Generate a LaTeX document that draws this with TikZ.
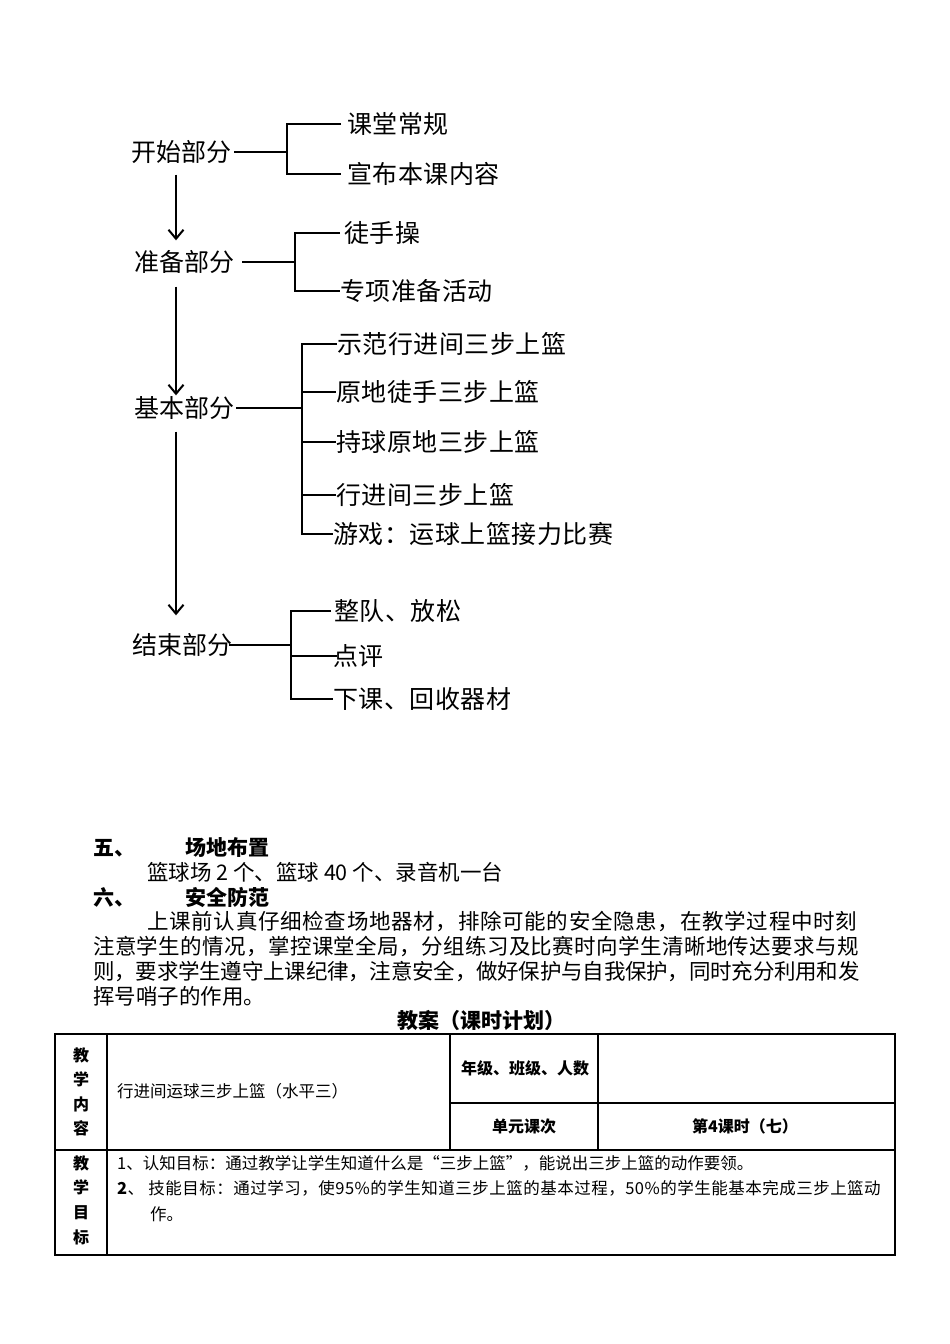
\documentclass[tikz,border=0pt]{standalone}
\usepackage{fontspec}
\setmainfont{Noto Sans CJK SC}
\usetikzlibrary{arrows.meta}
\tikzset{
  part/.style={inner sep=0pt, text height=22pt, text depth=3pt, font=\fontsize{25}{30}\selectfont},
  item/.style={anchor=west, inner sep=0pt, text height=22pt, text depth=3pt, font=\fontsize{25}{30}\selectfont\addfontfeature{LetterSpace=2}},
  branch/.style={line width=2.2pt},
  flow/.style={line width=2pt, -{Straight Barb[length=9pt,width=15pt,line width=2pt]}},
  head/.style={anchor=west, inner sep=0pt, text height=18.5pt, text depth=2.5pt, font=\fontsize{21}{25}\selectfont\bfseries},
  body/.style={anchor=west, inner sep=0pt, text height=19pt, text depth=2.5pt, font=\fontsize{21.5}{25}\selectfont},
  grid/.style={line width=1.2pt},
  cell/.style={inner sep=0pt, text height=14.5pt, text depth=2pt, font=\fontsize{16.5}{20}\selectfont},
  cellb/.style={inner sep=0pt, font=\fontsize{16}{20}\selectfont\bfseries},
}

\begin{document}
\begin{tikzpicture}[x=1pt,y=-1pt]
  \useasboundingbox (0,0) rectangle (950,1344);
  \fill[white] (0,0) rectangle (950,1344);

  % lesson parts
  \node[part] (kaishi) at (181,152) {开始部分};
  \node[part] (zhunbei) at (184,262) {准备部分};
  \node[part] (jiben) at (184,408) {基本部分};
  \node[part] (jieshu) at (182,645) {结束部分};

  \draw[flow, shorten <=10pt, shorten >=9pt] ([xshift=-5pt]kaishi.south) -- ([xshift=-5pt]kaishi.south |- zhunbei.north);
  \draw[flow, shorten <=12pt] ([xshift=-8pt]zhunbei.south) -- ([xshift=-8pt]zhunbei.south |- jiben.north);
  \draw[flow, shorten <=11pt, shorten >=17pt] ([xshift=-8pt]jiben.south) -- ([xshift=-8pt]jiben.south |- jieshu.north);

  % 开始部分
  \node[item] (k1) at (347,124) {课堂常规};
  \node[item] (k2) at (347,174) {宣布本课内容};
  \coordinate (kj) at (287,152);
  \draw[branch] ([xshift=3pt]kaishi.east) -- (kj);
  \draw[branch, shorten <=6pt, shorten >=6pt] (k1.west) -| (kj) |- (k2.west);

  % 准备部分
  \node[item] (z1) at (344,233) {徒手操};
  \node[item] (z2) at (340,291) {专项准备活动};
  \coordinate (zj) at (295,262);
  \draw[branch] ([xshift=8pt]zhunbei.east) -- (zj);
  \draw[branch, shorten <=4pt] (z1.west) -| (zj) |- (z2.west);

  % 基本部分
  \node[item] (j1) at (337,344) {示范行进间三步上篮};
  \node[item] (j2) at (336,392) {原地徒手三步上篮};
  \node[item] (j3) at (336,442) {持球原地三步上篮};
  \node[item] (j4) at (336,495) {行进间三步上篮};
  \node[item] (j5) at (333,534) {游戏：运球上篮接力比赛};
  \coordinate (jj) at (302,407);
  \draw[branch] ([xshift=2pt]jiben.east) -- (jiben.east -| jj);
  \foreach \i in {1,...,5}
    \draw[branch] (jj) |- (j\i.west);

  % 结束部分
  \node[item] (e1) at (334,611) {整队、放松};
  \node[item] (e2) at (333,656) {点评};
  \node[item] (e3) at (333,699) {下课、回收器材};
  \coordinate (ej) at (291,641);
  \draw[branch] ([xshift=-3pt]jieshu.east) -- (jieshu.east -| ej);
  \draw[branch, shorten <=3pt] (e1.west) -| (ej) |- (e3.west);
  \draw[branch, shorten >=-4pt] (ej |- e2.west) -- (e2.west);

  % 五、六
  \node[head] (wu) at (93,847) {五、};
  \node[head] (wutitle) at (185,847) {场地布置};
  \node[body] (changdi) at (147,872) {篮球场 2 个、篮球 40 个、录音机一台};
  \node[head] (liu) at (93,897) {六、};
  \node[head] (liutitle) at (185,897) {安全防范};
  \node[body] (anquan1) at (147,921) {\addfontfeature{LetterSpace=3.3}上课前认真仔细检查场地器材，排除可能的安全隐患，在教学过程中时刻};
  \node[body] (anquan2) at (93,946) {\addfontfeature{LetterSpace=1.8}注意学生的情况，掌控课堂全局，分组练习及比赛时向学生清晰地传达要求与规};
  \node[body] (anquan3) at (93,971) {\addfontfeature{LetterSpace=-1}则，要求学生遵守上课纪律，注意安全，做好保护与自我保护，同时充分利用和发};
  \node[body] (anquan4) at (93,996) {挥号哨子的作用。};

  % 教案表
  \node[font=\fontsize{21}{25}\selectfont\bfseries, inner sep=0pt] (jiaoan) at (481,1020) {教案（课时计划）};
  \draw[grid] (55,1034) rectangle (895,1255);
  \draw[grid] (107,1034) -- (107,1255);
  \draw[grid] (55,1150) -- (895,1150);
  \draw[grid] (450,1034) -- (450,1150);
  \draw[grid] (598,1034) -- (598,1150);
  \draw[grid] (450,1103) -- (895,1103);

  \node[cellb, align=center, font=\fontsize{16}{24.4}\selectfont\bfseries] (neirong) at (81,1092) {教\\学\\内\\容};
  \node[cell, anchor=west] (neirongtxt) at (117,1091) {行进间运球三步上篮（水平三）};
  \node[cellb] (nianji) at (525,1068) {年级、班级、人数};
  \node[cellb] (danyuan) at (524,1126) {单元课次};
  \node[cellb] (keci) at (745,1126) {第4课时（七）};
  \node[cellb, align=center, font=\fontsize{16}{24.7}\selectfont\bfseries] (mubiao) at (81,1200) {教\\学\\目\\标};
  \node[cell, anchor=west] (mubiao1) at (117,1163) {1、认知目标：通过教学让学生知道什么是“三步上篮”，能说出三步上篮的动作要领。};
  \node[cell, anchor=west] (mubiao2) at (117,1188) {\addfontfeature{LetterSpace=3}\textbf{2}、 技能目标：通过学习，使95\%的学生知道三步上篮的基本过程，50\%的学生能基本完成三步上篮动};
  \node[cell, anchor=west] (mubiao3) at (150,1214) {作。};
\end{tikzpicture}
\end{document}
